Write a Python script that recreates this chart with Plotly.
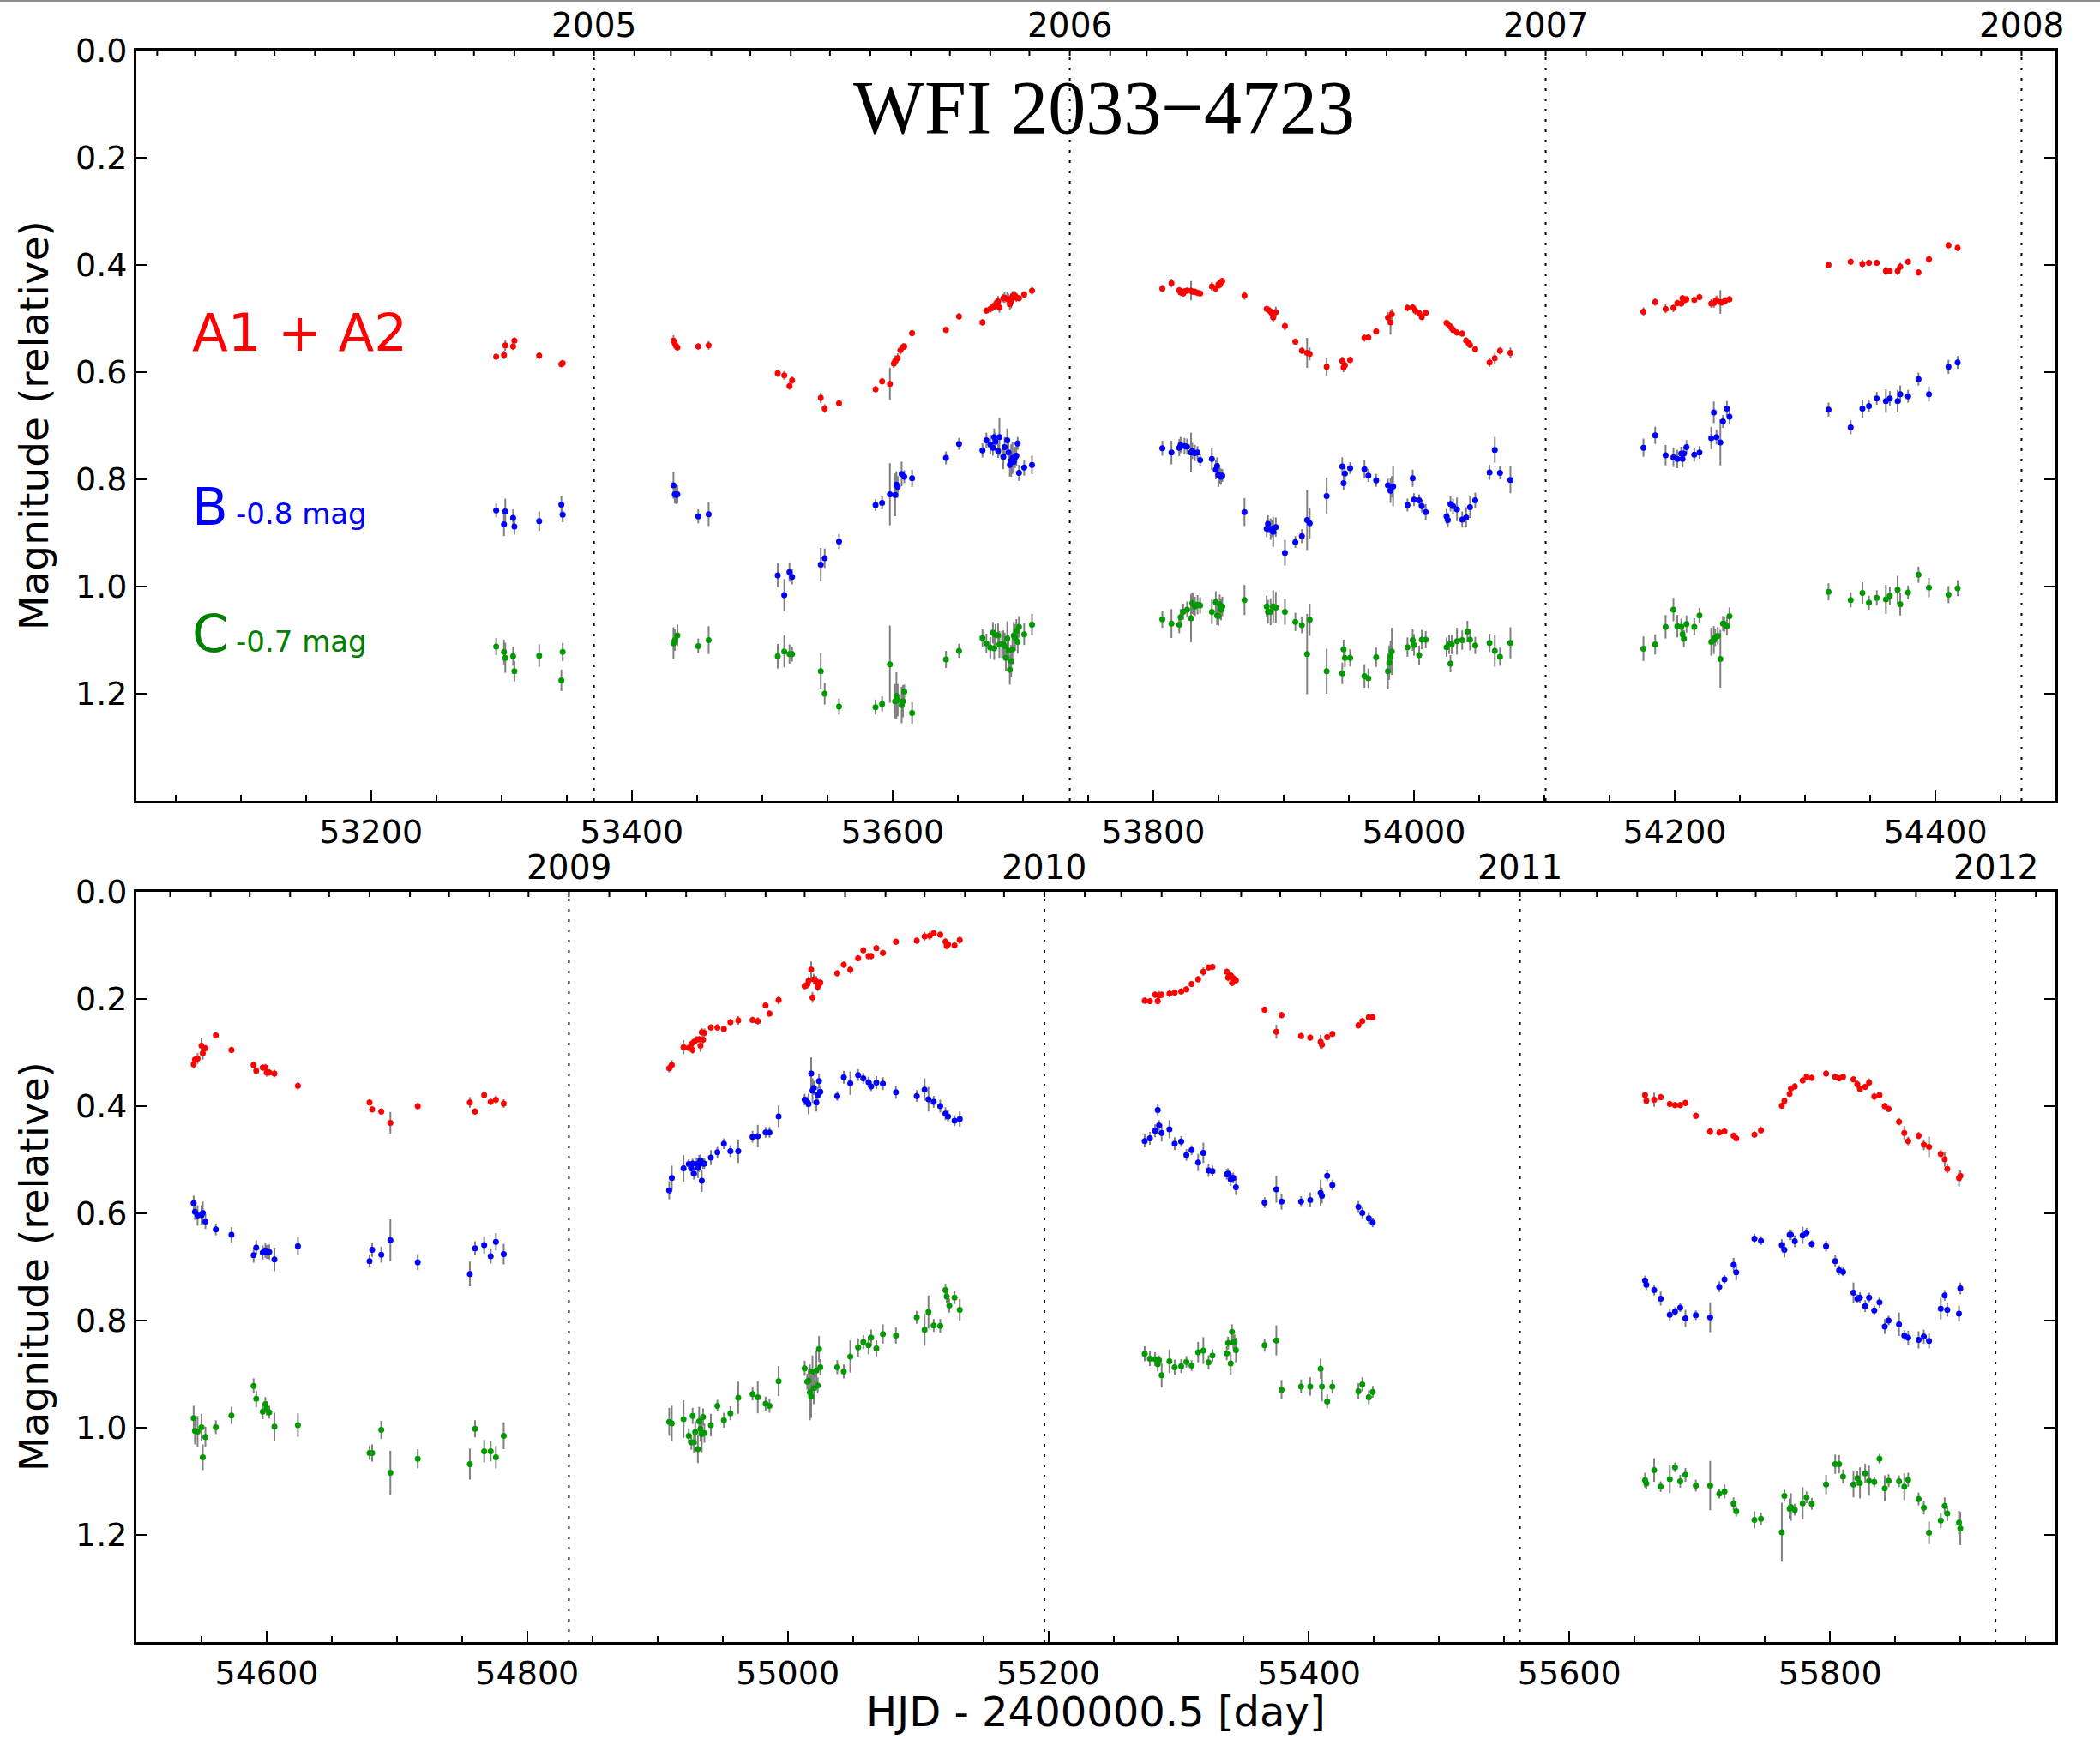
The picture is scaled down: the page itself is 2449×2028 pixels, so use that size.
import datetime as dt
import plotly.graph_objects as go

# ---------------------------------------------------------------------------
# Light curves of WFI 2033-4723 (plotted magnitudes; B shifted by -0.8 mag,
# C shifted by -0.7 mag). Dates are HJD - 2400000.5.
# ---------------------------------------------------------------------------

# A1 + A2
t_a = [
    53296, 53302, 53303, 53309, 53310, 53329, 53346, 53347,
    53432, 53433, 53434, 53435, 53451, 53459,
    53512, 53517, 53521, 53523, 53545, 53548, 53559, 53587, 53592, 53598,
    53601, 53602, 53604, 53606, 53608, 53609, 53615, 53641, 53651, 53669,
    53672, 53675, 53677, 53678, 53680, 53681, 53682, 53685, 53686, 53688,
    53689, 53690, 53691, 53692, 53693, 53694, 53695, 53697, 53701, 53707,
    53807, 53814, 53820, 53821, 53823, 53824, 53826, 53829, 53830, 53832,
    53834, 53836, 53845, 53848, 53850, 53851, 53852, 53853, 53870, 53887,
    53889, 53891, 53892, 53894, 53901, 53909, 53914, 53918, 53920, 53933,
    53945, 53946, 53947, 53951, 53962, 53965, 53971, 53980, 53982, 53983,
    53995, 53999, 54001, 54004, 54006, 54009, 54025, 54027, 54029, 54030,
    54033, 54037, 54040, 54042, 54043, 54047, 54058, 54062, 54066, 54074,
    54176, 54185, 54193, 54199, 54202, 54205, 54206, 54207, 54209, 54215,
    54219, 54228, 54230, 54232, 54235, 54236, 54238, 54239, 54242,
    54318, 54335, 54344, 54349, 54355, 54362, 54365, 54371, 54373, 54379, 54387, 54395, 54410, 54417,
    54544, 54545, 54547, 54550, 54551, 54553, 54561, 54573, 54590, 54592, 54597, 54599, 54600, 54602, 54606, 54624,
    54679, 54681, 54688, 54695, 54716, 54756, 54760, 54767, 54772, 54776, 54782,
    54909, 54911, 54920, 54924, 54926, 54927, 54928, 54930, 54932, 54933,
    54934, 54935, 54936, 54941, 54946, 54951, 54956, 54962, 54973, 54977,
    54983, 54986, 54993, 55013, 55015, 55016, 55018, 55019, 55020, 55022,
    55023, 55024, 55025, 55038, 55043, 55048, 55054, 55058, 55062, 55064,
    55068, 55073, 55083, 55099, 55105, 55109, 55112, 55117, 55121, 55122,
    55123, 55128, 55132,
    55274, 55278, 55282, 55284, 55285, 55287, 55293, 55297, 55302, 55306,
    55310, 55315, 55319, 55323, 55326, 55337, 55338, 55340, 55341, 55342,
    55344, 55366, 55375, 55379, 55394, 55401, 55409, 55410, 55414, 55418,
    55438, 55441, 55446, 55449,
    55658, 55659, 55665, 55670, 55677, 55681, 55685, 55689, 55697, 55708,
    55715, 55719, 55726, 55728, 55742, 55747, 55763, 55765, 55769, 55770,
    55773, 55779, 55782, 55786, 55797, 55804, 55807, 55810, 55818, 55821,
    55823, 55827, 55830, 55834, 55838, 55842, 55845, 55853, 55857, 55860,
    55868, 55872, 55876, 55885, 55888, 55890, 55899, 55900,
]
mag_a = [
    0.571, 0.568, 0.550, 0.552, 0.541, 0.569, 0.585, 0.583,
    0.541, 0.546, 0.551, 0.554, 0.552, 0.550,
    0.602, 0.606, 0.626, 0.615, 0.648, 0.668, 0.658, 0.632, 0.617, 0.622,
    0.584, 0.579, 0.574, 0.559, 0.553, 0.552, 0.527, 0.521, 0.496, 0.507,
    0.485, 0.482, 0.478, 0.477, 0.470, 0.468, 0.479, 0.462, 0.461, 0.463,
    0.464, 0.473, 0.467, 0.459, 0.456, 0.457, 0.461, 0.462, 0.455, 0.448,
    0.444, 0.434, 0.447, 0.451, 0.453, 0.449, 0.448, 0.448, 0.450, 0.450,
    0.452, 0.453, 0.440, 0.444, 0.436, 0.437, 0.432, 0.430, 0.457, 0.482,
    0.485, 0.490, 0.498, 0.488, 0.514, 0.543, 0.560, 0.564, 0.566, 0.590,
    0.579, 0.591, 0.587, 0.577, 0.536, 0.535, 0.524, 0.498, 0.507, 0.492,
    0.480, 0.479, 0.485, 0.490, 0.497, 0.489, 0.508, 0.513, 0.518, 0.521,
    0.526, 0.528, 0.541, 0.546, 0.549, 0.557, 0.582, 0.574, 0.560, 0.564,
    0.487, 0.469, 0.482, 0.480, 0.471, 0.472, 0.462, 0.466, 0.464, 0.465,
    0.460, 0.472, 0.471, 0.465, 0.469, 0.470, 0.468, 0.466, 0.464,
    0.400, 0.394, 0.398, 0.396, 0.396, 0.411, 0.411, 0.411, 0.403, 0.394, 0.414, 0.389, 0.363, 0.368,
    0.322, 0.313, 0.311, 0.287, 0.301, 0.292, 0.268, 0.295, 0.323, 0.334, 0.328, 0.328, 0.337, 0.337, 0.339, 0.362,
    0.393, 0.406, 0.410, 0.431, 0.400, 0.393, 0.410, 0.379, 0.392, 0.388, 0.395,
    0.329, 0.323, 0.290, 0.291, 0.284, 0.295, 0.280, 0.276, 0.275, 0.287,
    0.262, 0.276, 0.263, 0.253, 0.253, 0.256, 0.243, 0.240, 0.239, 0.241,
    0.212, 0.227, 0.202, 0.176, 0.173, 0.166, 0.145, 0.197, 0.163, 0.167,
    0.177, 0.173, 0.169, 0.152, 0.136, 0.145, 0.124, 0.109, 0.120, 0.120,
    0.105, 0.114, 0.093, 0.091, 0.083, 0.082, 0.077, 0.080, 0.093, 0.101,
    0.098, 0.100, 0.090,
    0.203, 0.204, 0.192, 0.204, 0.193, 0.192, 0.190, 0.188, 0.186, 0.182,
    0.172, 0.163, 0.149, 0.141, 0.140, 0.149, 0.160, 0.156, 0.170, 0.161,
    0.165, 0.220, 0.261, 0.230, 0.269, 0.272, 0.280, 0.285, 0.271, 0.265,
    0.249, 0.241, 0.234, 0.234,
    0.379, 0.390, 0.388, 0.383, 0.396, 0.398, 0.398, 0.394, 0.418, 0.447,
    0.449, 0.447, 0.455, 0.460, 0.453, 0.445, 0.399, 0.390, 0.377, 0.367,
    0.363, 0.352, 0.345, 0.347, 0.339, 0.345, 0.348, 0.345, 0.350, 0.359,
    0.368, 0.364, 0.356, 0.382, 0.379, 0.400, 0.405, 0.429, 0.450, 0.465,
    0.455, 0.472, 0.476, 0.489, 0.499, 0.517, 0.534, 0.530,
]
err_a = [
    0.006, 0.008, 0.010, 0.007, 0.006, 0.007, 0.006, 0.006,
    0.010, 0.007, 0.006, 0.006, 0.006, 0.008,
    0.007, 0.008, 0.007, 0.007, 0.010, 0.008, 0.006, 0.006, 0.006, 0.030,
    0.008, 0.010, 0.009, 0.008, 0.007, 0.006, 0.006, 0.006, 0.006, 0.006,
    0.006, 0.007, 0.008, 0.008, 0.009, 0.010, 0.010, 0.008, 0.010, 0.012,
    0.010, 0.012, 0.014, 0.010, 0.008, 0.008, 0.008, 0.006, 0.006, 0.007,
    0.007, 0.008, 0.006, 0.007, 0.006, 0.006, 0.006, 0.018, 0.006, 0.006,
    0.006, 0.006, 0.008, 0.006, 0.007, 0.007, 0.007, 0.006, 0.008, 0.006,
    0.007, 0.008, 0.008, 0.010, 0.008, 0.006, 0.006, 0.028, 0.012, 0.017,
    0.008, 0.009, 0.008, 0.006, 0.007, 0.006, 0.006, 0.010, 0.023, 0.010,
    0.006, 0.006, 0.008, 0.006, 0.006, 0.006, 0.006, 0.007, 0.008, 0.006,
    0.006, 0.006, 0.006, 0.006, 0.006, 0.006, 0.008, 0.010, 0.007, 0.010,
    0.008, 0.007, 0.008, 0.008, 0.006, 0.006, 0.006, 0.006, 0.006, 0.006,
    0.006, 0.008, 0.009, 0.008, 0.022, 0.006, 0.006, 0.006, 0.006,
    0.006, 0.006, 0.008, 0.006, 0.006, 0.008, 0.006, 0.008, 0.007, 0.006, 0.006, 0.007, 0.006, 0.006,
    0.008, 0.007, 0.010, 0.015, 0.012, 0.006, 0.006, 0.006, 0.006, 0.006, 0.006, 0.007, 0.008, 0.006, 0.007, 0.007,
    0.006, 0.006, 0.006, 0.020, 0.007, 0.010, 0.006, 0.006, 0.006, 0.008, 0.008,
    0.008, 0.009, 0.013, 0.006, 0.006, 0.007, 0.006, 0.007, 0.006, 0.012,
    0.008, 0.007, 0.008, 0.006, 0.006, 0.006, 0.006, 0.008, 0.006, 0.007,
    0.006, 0.006, 0.008, 0.006, 0.008, 0.008, 0.015, 0.010, 0.010, 0.010,
    0.008, 0.008, 0.006, 0.006, 0.006, 0.008, 0.006, 0.006, 0.006, 0.006,
    0.006, 0.006, 0.006, 0.006, 0.008, 0.008, 0.006, 0.006, 0.007, 0.006,
    0.006, 0.006, 0.007,
    0.006, 0.006, 0.006, 0.006, 0.008, 0.006, 0.007, 0.006, 0.006, 0.006,
    0.006, 0.006, 0.008, 0.006, 0.006, 0.006, 0.007, 0.006, 0.006, 0.007,
    0.006, 0.006, 0.013, 0.006, 0.006, 0.006, 0.013, 0.008, 0.006, 0.006,
    0.006, 0.006, 0.006, 0.006,
    0.006, 0.006, 0.013, 0.006, 0.006, 0.006, 0.006, 0.006, 0.006, 0.007,
    0.006, 0.006, 0.006, 0.006, 0.006, 0.007, 0.006, 0.006, 0.006, 0.006,
    0.006, 0.006, 0.006, 0.006, 0.006, 0.006, 0.006, 0.006, 0.006, 0.008,
    0.006, 0.006, 0.008, 0.007, 0.006, 0.006, 0.006, 0.007, 0.013, 0.008,
    0.007, 0.010, 0.019, 0.008, 0.014, 0.008, 0.016, 0.010,
]

# B (shifted by -0.8 mag)
t_b = [
    53296, 53302, 53303, 53309, 53310, 53329, 53346, 53347,
    53432, 53433, 53434, 53435, 53451, 53459,
    53512, 53517, 53521, 53523, 53545, 53548, 53559, 53587, 53592, 53598,
    53602, 53603, 53604, 53607, 53609, 53615, 53641, 53651, 53669, 53672,
    53675, 53677, 53678, 53679, 53681, 53682, 53685, 53686, 53688, 53689,
    53690, 53691, 53692, 53693, 53694, 53695, 53696, 53697, 53701, 53707,
    53807, 53814, 53820, 53821, 53824, 53826, 53829, 53830, 53832, 53834,
    53836, 53845, 53848, 53849, 53850, 53851, 53852, 53853, 53870, 53887,
    53888, 53890, 53891, 53892, 53894, 53901, 53909, 53914, 53918, 53920,
    53933, 53945, 53946, 53947, 53951, 53962, 53965, 53971, 53980, 53982,
    53983, 53984, 53995, 53999, 54000, 54004, 54006, 54009, 54025, 54026,
    54028, 54030, 54033, 54037, 54040, 54043, 54047, 54058, 54062, 54066,
    54074,
    54176, 54185, 54193, 54199, 54202, 54205, 54206, 54207, 54209, 54215,
    54219, 54228, 54230, 54232, 54235, 54237, 54240, 54242,
    54318, 54335, 54344, 54349, 54355, 54362, 54365, 54371, 54373, 54379, 54387, 54395, 54410, 54417,
    54544, 54545, 54547, 54550, 54551, 54553, 54561, 54573, 54590, 54592, 54597, 54599, 54600, 54602, 54606, 54624,
    54679, 54681, 54688, 54695, 54716, 54756, 54760, 54767, 54772, 54776, 54782,
    54909, 54911, 54920, 54924, 54926, 54927, 54928, 54930, 54931, 54932,
    54933, 54934, 54935, 54936, 54941, 54946, 54951, 54956, 54962, 54973,
    54977, 54983, 54986, 54993, 55013, 55015, 55016, 55018, 55019, 55020,
    55022, 55023, 55024, 55025, 55038, 55043, 55048, 55054, 55058, 55062,
    55064, 55068, 55073, 55083, 55099, 55105, 55108, 55112, 55117, 55121,
    55123, 55128, 55132,
    55274, 55278, 55282, 55284, 55285, 55287, 55293, 55297, 55302, 55306,
    55310, 55315, 55319, 55323, 55326, 55337, 55338, 55340, 55341, 55342,
    55344, 55366, 55375, 55379, 55394, 55401, 55409, 55410, 55414, 55418,
    55438, 55441, 55446, 55449,
    55658, 55659, 55665, 55670, 55677, 55681, 55685, 55689, 55697, 55708,
    55715, 55719, 55726, 55728, 55742, 55747, 55763, 55765, 55769, 55770,
    55773, 55779, 55782, 55786, 55797, 55804, 55807, 55810, 55818, 55821,
    55823, 55827, 55830, 55834, 55838, 55842, 55845, 55853, 55857, 55860,
    55868, 55872, 55876, 55885, 55888, 55890, 55899, 55900,
]
mag_b = [
    0.858, 0.884, 0.860, 0.872, 0.888, 0.878, 0.847, 0.866,
    0.811, 0.828, 0.829, 0.828, 0.869, 0.865,
    0.979, 1.016, 0.973, 0.982, 0.959, 0.947, 0.916, 0.848, 0.844, 0.828,
    0.829, 0.810, 0.814, 0.790, 0.795, 0.798, 0.760, 0.734, 0.746, 0.727,
    0.735, 0.741, 0.721, 0.730, 0.747, 0.721, 0.758, 0.740, 0.727, 0.750,
    0.773, 0.765, 0.760, 0.767, 0.759, 0.756, 0.733, 0.788, 0.778, 0.773,
    0.742, 0.750, 0.741, 0.736, 0.738, 0.739, 0.750, 0.747, 0.751, 0.750,
    0.764, 0.762, 0.782, 0.775, 0.792, 0.793, 0.795, 0.793, 0.861, 0.892,
    0.883, 0.893, 0.892, 0.898, 0.889, 0.937, 0.917, 0.906, 0.876, 0.882,
    0.831, 0.776, 0.807, 0.789, 0.779, 0.781, 0.793, 0.802, 0.811, 0.821,
    0.814, 0.813, 0.848, 0.798, 0.838, 0.839, 0.850, 0.861, 0.869, 0.876,
    0.846, 0.850, 0.856, 0.875, 0.871, 0.852, 0.839, 0.787, 0.745, 0.788,
    0.801,
    0.741, 0.718, 0.755, 0.759, 0.762, 0.752, 0.762, 0.752, 0.740, 0.754,
    0.750, 0.723, 0.675, 0.721, 0.731, 0.692, 0.668, 0.683,
    0.670, 0.703, 0.668, 0.663, 0.649, 0.654, 0.649, 0.654, 0.641, 0.645, 0.613, 0.641, 0.590, 0.582,
    0.581, 0.597, 0.604, 0.603, 0.599, 0.615, 0.630, 0.640, 0.678, 0.664, 0.673, 0.669, 0.672, 0.672, 0.686, 0.661,
    0.689, 0.668, 0.677, 0.650, 0.691, 0.713, 0.665, 0.659, 0.680, 0.653, 0.676,
    0.557, 0.534, 0.516, 0.508, 0.516, 0.507, 0.526, 0.508, 0.515, 0.507,
    0.501, 0.539, 0.507, 0.507, 0.496, 0.486, 0.470, 0.484, 0.484, 0.457,
    0.456, 0.449, 0.449, 0.419, 0.388, 0.392, 0.396, 0.339, 0.371, 0.366,
    0.393, 0.379, 0.353, 0.373, 0.381, 0.346, 0.357, 0.342, 0.348, 0.355,
    0.363, 0.356, 0.358, 0.374, 0.381, 0.369, 0.387, 0.392, 0.400, 0.414,
    0.419, 0.427, 0.424,
    0.465, 0.460, 0.446, 0.407, 0.436, 0.450, 0.443, 0.470, 0.466, 0.491,
    0.482, 0.505, 0.487, 0.520, 0.521, 0.527, 0.526, 0.537, 0.534, 0.534,
    0.551, 0.580, 0.555, 0.578, 0.578, 0.575, 0.562, 0.567, 0.530, 0.547,
    0.588, 0.599, 0.609, 0.617,
    0.725, 0.733, 0.743, 0.759, 0.789, 0.783, 0.776, 0.796, 0.790, 0.794,
    0.737, 0.723, 0.696, 0.710, 0.647, 0.651, 0.659, 0.668, 0.640, 0.640,
    0.652, 0.641, 0.636, 0.657, 0.661, 0.689, 0.706, 0.709, 0.748, 0.759,
    0.757, 0.773, 0.757, 0.781, 0.766, 0.811, 0.800, 0.807, 0.828, 0.832,
    0.836, 0.830, 0.838, 0.778, 0.753, 0.780, 0.787, 0.740,
]
err_b = [
    0.013, 0.022, 0.024, 0.016, 0.015, 0.018, 0.016, 0.014,
    0.025, 0.017, 0.017, 0.017, 0.013, 0.022,
    0.022, 0.030, 0.018, 0.014, 0.031, 0.018, 0.014, 0.011, 0.012, 0.058,
    0.040, 0.025, 0.020, 0.023, 0.012, 0.016, 0.012, 0.011, 0.013, 0.014,
    0.018, 0.015, 0.016, 0.017, 0.013, 0.035, 0.023, 0.019, 0.022, 0.025,
    0.022, 0.030, 0.030, 0.020, 0.020, 0.020, 0.012, 0.015, 0.015, 0.017,
    0.014, 0.022, 0.016, 0.015, 0.015, 0.015, 0.037, 0.015, 0.015, 0.012,
    0.012, 0.021, 0.018, 0.016, 0.022, 0.015, 0.015, 0.012, 0.026, 0.016,
    0.016, 0.020, 0.016, 0.028, 0.018, 0.024, 0.011, 0.013, 0.056, 0.028,
    0.034, 0.017, 0.013, 0.013, 0.011, 0.017, 0.012, 0.012, 0.012, 0.023,
    0.020, 0.037, 0.012, 0.016, 0.012, 0.011, 0.012, 0.015, 0.014, 0.014,
    0.014, 0.014, 0.022, 0.015, 0.019, 0.020, 0.014, 0.014, 0.024, 0.012,
    0.025,
    0.017, 0.016, 0.019, 0.018, 0.017, 0.013, 0.016, 0.013, 0.013, 0.013,
    0.012, 0.021, 0.020, 0.014, 0.043, 0.012, 0.014, 0.013,
    0.013, 0.013, 0.017, 0.012, 0.012, 0.022, 0.014, 0.021, 0.016, 0.012, 0.012, 0.014, 0.013, 0.012,
    0.014, 0.015, 0.019, 0.018, 0.021, 0.014, 0.011, 0.014, 0.014, 0.014, 0.013, 0.014, 0.013, 0.014, 0.022, 0.017,
    0.011, 0.013, 0.015, 0.039, 0.015, 0.023, 0.013, 0.016, 0.014, 0.016, 0.019,
    0.017, 0.023, 0.025, 0.009, 0.012, 0.009, 0.011, 0.012, 0.019, 0.016,
    0.011, 0.021, 0.010, 0.010, 0.014, 0.010, 0.010, 0.011, 0.022, 0.011,
    0.021, 0.010, 0.010, 0.020, 0.011, 0.010, 0.019, 0.030, 0.023, 0.013,
    0.017, 0.015, 0.014, 0.012, 0.009, 0.012, 0.022, 0.011, 0.010, 0.010,
    0.009, 0.012, 0.012, 0.012, 0.011, 0.021, 0.023, 0.011, 0.012, 0.012,
    0.011, 0.010, 0.014,
    0.012, 0.012, 0.012, 0.010, 0.010, 0.016, 0.017, 0.012, 0.010, 0.011,
    0.009, 0.016, 0.019, 0.012, 0.010, 0.010, 0.010, 0.012, 0.009, 0.010,
    0.015, 0.010, 0.025, 0.015, 0.010, 0.014, 0.025, 0.014, 0.010, 0.010,
    0.011, 0.010, 0.010, 0.009,
    0.009, 0.010, 0.010, 0.013, 0.011, 0.008, 0.008, 0.016, 0.009, 0.028,
    0.010, 0.008, 0.013, 0.015, 0.009, 0.008, 0.011, 0.014, 0.010, 0.010,
    0.011, 0.016, 0.009, 0.007, 0.010, 0.012, 0.009, 0.008, 0.019, 0.008,
    0.010, 0.011, 0.009, 0.009, 0.010, 0.014, 0.009, 0.022, 0.010, 0.013,
    0.016, 0.013, 0.014, 0.020, 0.010, 0.013, 0.015, 0.011,
]

# C (shifted by -0.7 mag)
t_c = [
    53296, 53302, 53303, 53309, 53310, 53329, 53346, 53347,
    53432, 53433, 53435, 53451, 53459,
    53512, 53517, 53521, 53523, 53545, 53548, 53559, 53587, 53592, 53598,
    53602, 53603, 53604, 53607, 53608, 53609, 53615, 53641, 53651, 53669,
    53672, 53675, 53677, 53678, 53679, 53681, 53682, 53684, 53685, 53686,
    53687, 53688, 53689, 53690, 53691, 53692, 53693, 53694, 53695, 53696,
    53697, 53701, 53707,
    53807, 53814, 53820, 53821, 53823, 53826, 53829, 53830, 53831, 53832,
    53834, 53836, 53845, 53848, 53849, 53850, 53851, 53852, 53853, 53870,
    53887, 53888, 53890, 53892, 53894, 53901, 53909, 53914, 53918, 53920,
    53933, 53945, 53946, 53947, 53951, 53962, 53965, 53971, 53980, 53981,
    53982, 53983, 53995, 53999, 54000, 54004, 54006, 54009, 54025, 54027,
    54028, 54029, 54033, 54037, 54041, 54043, 54047, 54058, 54062, 54066,
    54074,
    54176, 54185, 54193, 54199, 54202, 54205, 54206, 54207, 54209, 54215,
    54219, 54228, 54230, 54231, 54233, 54235, 54237, 54238, 54240, 54242,
    54318, 54335, 54344, 54349, 54355, 54362, 54365, 54371, 54373, 54379, 54387, 54395, 54410, 54417,
    54544, 54545, 54547, 54550, 54551, 54553, 54561, 54573, 54590, 54592, 54597, 54599, 54600, 54602, 54606, 54624,
    54679, 54681, 54688, 54695, 54716, 54756, 54760, 54767, 54772, 54776, 54782,
    54909, 54911, 54920, 54924, 54926, 54927, 54928, 54929, 54931, 54932,
    54933, 54934, 54935, 54936, 54941, 54946, 54951, 54956, 54962, 54973,
    54977, 54983, 54986, 54993, 55013, 55015, 55016, 55017, 55018, 55019,
    55020, 55022, 55023, 55024, 55025, 55038, 55043, 55048, 55054, 55058,
    55062, 55064, 55068, 55073, 55083, 55099, 55105, 55108, 55112, 55117,
    55121, 55122, 55124, 55128, 55132,
    55274, 55278, 55282, 55284, 55285, 55287, 55293, 55297, 55302, 55306,
    55310, 55315, 55319, 55323, 55326, 55337, 55338, 55340, 55341, 55342,
    55343, 55344, 55366, 55375, 55379, 55394, 55401, 55409, 55410, 55414,
    55418, 55438, 55441, 55446, 55449,
    55658, 55659, 55665, 55670, 55677, 55681, 55685, 55689, 55697, 55708,
    55715, 55719, 55726, 55728, 55742, 55747, 55763, 55765, 55769, 55770,
    55773, 55779, 55782, 55786, 55797, 55804, 55807, 55810, 55818, 55821,
    55823, 55827, 55830, 55834, 55838, 55842, 55845, 55853, 55857, 55860,
    55868, 55872, 55876, 55885, 55888, 55890, 55899, 55900,
]
mag_c = [
    1.112, 1.122, 1.133, 1.130, 1.158, 1.129, 1.175, 1.122,
    1.106, 1.100, 1.091, 1.111, 1.100,
    1.130, 1.121, 1.126, 1.126, 1.158, 1.200, 1.224, 1.225, 1.219, 1.145,
    1.214, 1.204, 1.212, 1.221, 1.214, 1.196, 1.236, 1.136, 1.120, 1.096,
    1.106, 1.114, 1.086, 1.115, 1.090, 1.091, 1.108, 1.108, 1.107, 1.111,
    1.133, 1.097, 1.120, 1.155, 1.139, 1.117, 1.091, 1.095, 1.083, 1.103,
    1.075, 1.089, 1.071,
    1.061, 1.069, 1.071, 1.057, 1.047, 1.043, 1.059, 1.031, 1.033, 1.037,
    1.034, 1.035, 1.047, 1.029, 1.054, 1.055, 1.033, 1.043, 1.037, 1.025,
    1.037, 1.047, 1.047, 1.037, 1.039, 1.047, 1.066, 1.072, 1.126, 1.062,
    1.158, 1.162, 1.117, 1.133, 1.133, 1.167, 1.171, 1.132, 1.158, 1.142,
    1.131, 1.121, 1.113, 1.100, 1.109, 1.128, 1.099, 1.099, 1.113, 1.108,
    1.144, 1.108, 1.102, 1.100, 1.084, 1.099, 1.110, 1.105, 1.120, 1.131,
    1.105,
    1.116, 1.108, 1.075, 1.043, 1.074, 1.075, 1.089, 1.097, 1.070, 1.075,
    1.054, 1.103, 1.100, 1.095, 1.092, 1.135, 1.069, 1.070, 1.074, 1.055,
    1.010, 1.025, 1.012, 1.030, 1.021, 1.024, 1.017, 1.006, 1.033, 1.011, 0.978, 1.002, 1.015, 1.003,
    0.982, 1.006, 1.007, 0.999, 1.055, 1.017, 0.999, 0.977, 0.922, 0.946, 0.970, 0.956, 0.964, 0.971, 0.998, 0.995,
    1.047, 1.047, 1.004, 1.084, 1.058, 1.068, 1.002, 1.044, 1.044, 1.055, 1.015,
    0.989, 0.992, 0.984, 1.015, 1.027, 0.978, 1.027, 1.008, 1.040, 0.988,
    1.002, 1.012, 0.980, 1.010, 0.995, 0.959, 0.986, 0.973, 0.944, 0.937,
    0.943, 0.955, 0.959, 0.913, 0.889, 0.914, 0.912, 0.934, 0.942, 0.895,
    0.926, 0.893, 0.921, 0.853, 0.887, 0.887, 0.895, 0.867, 0.850, 0.840,
    0.846, 0.832, 0.852, 0.825, 0.828, 0.794, 0.817, 0.784, 0.809, 0.810,
    0.743, 0.755, 0.772, 0.757, 0.780,
    0.862, 0.871, 0.872, 0.881, 0.874, 0.902, 0.876, 0.887, 0.885, 0.877,
    0.884, 0.859, 0.856, 0.878, 0.865, 0.861, 0.842, 0.880, 0.821, 0.840,
    0.839, 0.855, 0.846, 0.837, 0.929, 0.923, 0.923, 0.890, 0.923, 0.951,
    0.923, 0.932, 0.919, 0.943, 0.933,
    1.098, 1.104, 1.079, 1.110, 1.096, 1.074, 1.100, 1.088, 1.108, 1.108,
    1.123, 1.119, 1.142, 1.156, 1.172, 1.170, 1.195, 1.127, 1.151, 1.148,
    1.153, 1.141, 1.130, 1.142, 1.106, 1.068, 1.068, 1.091, 1.106, 1.094,
    1.103, 1.085, 1.099, 1.101, 1.058, 1.113, 1.099, 1.100, 1.110, 1.097,
    1.133, 1.149, 1.196, 1.173, 1.146, 1.160, 1.177, 1.188,
]
err_c = [
    0.016, 0.023, 0.028, 0.018, 0.019, 0.021, 0.020, 0.017,
    0.030, 0.020, 0.020, 0.014, 0.026,
    0.023, 0.030, 0.018, 0.014, 0.034, 0.020, 0.015, 0.014, 0.014, 0.072,
    0.032, 0.044, 0.030, 0.034, 0.030, 0.013, 0.020, 0.016, 0.013, 0.016,
    0.018, 0.020, 0.020, 0.022, 0.020, 0.022, 0.025, 0.025, 0.025, 0.025,
    0.025, 0.032, 0.030, 0.028, 0.030, 0.028, 0.025, 0.025, 0.022, 0.022,
    0.020, 0.020, 0.020,
    0.016, 0.027, 0.016, 0.015, 0.015, 0.015, 0.045, 0.020, 0.020, 0.018,
    0.018, 0.015, 0.023, 0.020, 0.018, 0.018, 0.018, 0.020, 0.018, 0.028,
    0.020, 0.022, 0.025, 0.030, 0.029, 0.024, 0.017, 0.015, 0.075, 0.030,
    0.042, 0.020, 0.018, 0.018, 0.016, 0.022, 0.018, 0.018, 0.034, 0.032,
    0.030, 0.044, 0.018, 0.020, 0.020, 0.018, 0.018, 0.016, 0.018, 0.018,
    0.016, 0.018, 0.025, 0.018, 0.020, 0.020, 0.016, 0.017, 0.030, 0.017,
    0.029,
    0.023, 0.019, 0.022, 0.022, 0.021, 0.015, 0.015, 0.016, 0.016, 0.016,
    0.014, 0.026, 0.026, 0.016, 0.016, 0.054, 0.014, 0.014, 0.017, 0.016,
    0.016, 0.014, 0.020, 0.013, 0.014, 0.027, 0.017, 0.026, 0.021, 0.013, 0.015, 0.018, 0.016, 0.015,
    0.023, 0.025, 0.029, 0.025, 0.024, 0.019, 0.013, 0.016, 0.014, 0.015, 0.014, 0.013, 0.013, 0.012, 0.026, 0.022,
    0.013, 0.016, 0.017, 0.041, 0.018, 0.029, 0.016, 0.021, 0.019, 0.021, 0.025,
    0.026, 0.033, 0.035, 0.014, 0.014, 0.015, 0.020, 0.020, 0.026, 0.027,
    0.024, 0.034, 0.016, 0.018, 0.021, 0.011, 0.014, 0.013, 0.030, 0.012,
    0.030, 0.013, 0.013, 0.028, 0.014, 0.015, 0.020, 0.052, 0.040, 0.030,
    0.030, 0.037, 0.015, 0.024, 0.015, 0.013, 0.013, 0.030, 0.017, 0.013,
    0.017, 0.015, 0.015, 0.018, 0.015, 0.012, 0.030, 0.031, 0.012, 0.013,
    0.012, 0.012, 0.013, 0.012, 0.020,
    0.014, 0.014, 0.013, 0.014, 0.009, 0.023, 0.022, 0.014, 0.013, 0.011,
    0.010, 0.019, 0.025, 0.013, 0.012, 0.013, 0.012, 0.021, 0.014, 0.013,
    0.013, 0.023, 0.012, 0.028, 0.018, 0.013, 0.017, 0.019, 0.028, 0.013,
    0.013, 0.015, 0.013, 0.013, 0.011,
    0.014, 0.011, 0.022, 0.010, 0.026, 0.009, 0.012, 0.013, 0.011, 0.046,
    0.009, 0.013, 0.012, 0.010, 0.016, 0.012, 0.055, 0.011, 0.019, 0.026,
    0.011, 0.030, 0.011, 0.011, 0.018, 0.018, 0.017, 0.013, 0.024, 0.014,
    0.029, 0.018, 0.028, 0.010, 0.009, 0.024, 0.012, 0.011, 0.025, 0.013,
    0.012, 0.013, 0.021, 0.014, 0.016, 0.014, 0.022, 0.031,
]

# Axis settings
y_ticks = [0.0, 0.2, 0.4, 0.6, 0.8, 1.0, 1.2]
y_range = [1.4, 0.0]
top_range = [53020, 54492]
bottom_range = [54500, 55973]
split_day = 54496
years = list(range(2005, 2013))

# ---------------------------------------------------------------------------
W, H = 2449, 2028
FONT = "DejaVu Sans"
RED, BLUE, GREEN = "#ff0000", "#0000ff", "#008000"
GREEN_MARK = "#009a00"
ERR_COL = "#808080"

X_DOM = [159 / W, 2397 / W]
TOP_DOM = [1 - 934 / H, 1 - 59 / H]
BOT_DOM = [1 - 1915 / H, 1 - 1040 / H]
PANEL_PX = 875.0          # panel height in pixels

MJD0 = dt.date(1858, 11, 17)


def mjd(d):
    return (d - MJD0).days


fig = go.Figure()

for t, m, e, col in [(t_a, mag_a, err_a, RED), (t_b, mag_b, err_b, BLUE),
                     (t_c, mag_c, err_c, GREEN_MARK)]:
    for is_top, xa, ya in [(True, "x", "y"), (False, "x2", "y2")]:
        idx = [i for i, v in enumerate(t) if (v < split_day) == is_top]
        fig.add_trace(go.Scatter(
            x=[t[i] for i in idx], y=[m[i] for i in idx],
            mode="markers",
            marker=dict(color=col, size=7, line=dict(width=0)),
            error_y=dict(type="data", array=[e[i] for i in idx],
                         color=ERR_COL, thickness=2, width=0),
            xaxis=xa, yaxis=ya, showlegend=False, hoverinfo="skip",
        ))

tick_font = dict(family=FONT, size=38, color="black")

x_common = dict(
    domain=X_DOM, showgrid=False, zeroline=False, automargin=False,
    showline=True, linecolor="black", linewidth=3, mirror=True,
    ticks="inside", ticklen=13, tickwidth=2, tickcolor="black",
    tick0=0, dtick=200, tickformat="d", tickfont=tick_font,
    minor=dict(ticks="inside", ticklen=7, tickwidth=2, tickcolor="black",
               tick0=0, dtick=50, showgrid=False),
)
y_common = dict(
    range=y_range, showgrid=False, zeroline=False, automargin=False,
    showline=True, linecolor="black", linewidth=3, mirror="ticks",
    ticks="inside", ticklen=13, tickwidth=2, tickcolor="black",
    tickvals=y_ticks, ticktext=[f"{v:.1f}" for v in y_ticks],
    tickfont=tick_font,
)

fig.update_layout(
    width=W, height=H,
    margin=dict(l=0, r=0, t=0, b=0, pad=0, autoexpand=False),
    paper_bgcolor="white", plot_bgcolor="white",
    xaxis=dict(range=top_range, anchor="y", **x_common),
    yaxis=dict(domain=TOP_DOM, anchor="x", **y_common),
    xaxis2=dict(range=bottom_range, anchor="y2", **x_common),
    yaxis2=dict(domain=BOT_DOM, anchor="x2", **y_common),
)

# Month ticks along the top edge of each panel, year labels above them,
# and dotted lines at the start of each year
for (lo, hi), xa, ya in [(top_range, "x", "y"), (bottom_range, "x2", "y2")]:
    for yr in range(2004, 2014):
        for mo in range(1, 13):
            d = mjd(dt.date(yr, mo, 1))
            if not (lo <= d <= hi):
                continue
            fig.add_shape(type="line", x0=d, x1=d, y0=1, y1=1 - 6 / PANEL_PX,
                          xref=xa, yref=ya + " domain",
                          line=dict(color="black", width=2))
            if mo == 1:
                fig.add_annotation(text=str(yr), x=d, y=1 + 29 / PANEL_PX,
                                   xref=xa, yref=ya + " domain",
                                   xanchor="center", yanchor="middle",
                                   showarrow=False, font=dict(family=FONT, size=39, color="black"))
                fig.add_shape(type="line", x0=d, x1=d, y0=0, y1=1,
                              xref=xa, yref=ya + " domain", layer="below",
                              line=dict(color="black", width=2, dash="3px,9px"))

# Thin frame line along the top edge of the figure
fig.add_shape(type="line", xref="paper", yref="paper",
              x0=0, x1=1, y0=1 - 1 / H, y1=1 - 1 / H,
              line=dict(color="#8c8c8c", width=2))


def px_x(x):
    return x / W


def px_y(y):
    return 1 - y / H


def label(text, x, y, size, color, family=FONT, xanchor="left", angle=0):
    fig.add_annotation(text=text, x=px_x(x), y=px_y(y), xref="paper",
                       yref="paper", xanchor=xanchor, yanchor="middle",
                       showarrow=False, textangle=angle,
                       font=dict(family=family, size=size, color=color))


label("WFI 2033\u22124723", 1287, 126, 88, "black",
      family="Liberation Serif", xanchor="center")
label("A1 + A2", 222, 388, 61, RED)
label("B", 222, 590, 61, BLUE)
label("-0.8 mag", 273, 599, 34, BLUE)
label("C", 222, 739, 61, GREEN)
label("-0.7 mag", 273, 748, 34, GREEN)

label("Magnitude (relative)", 39, 496, 47, "black", xanchor="center", angle=-90)
label("Magnitude (relative)", 39, 1477, 47, "black", xanchor="center", angle=-90)
label("HJD - 2400000.5 [day]", 1278, 1996, 48, "black", xanchor="center")

fig.write_html("out.html")
